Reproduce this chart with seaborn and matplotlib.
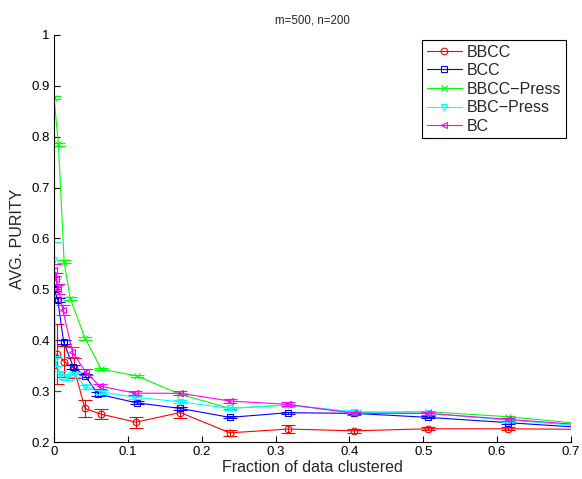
import pandas as pd
import seaborn as sns
import matplotlib.pyplot as plt

# values
methods = ["BBCC", "BCC", "BBCC\u2212Press", "BBC\u2212Press", "BC"]
colors = ["#ff0000", "#0000ff", "#00ff00", "#00ffff", "#ff00ff"]
markers = ["o", "s", "x", "v", "<"]

bbcc_x = [0.0, 0.004, 0.014, 0.027, 0.042, 0.063, 0.111, 0.171, 0.238, 0.317, 0.4065, 0.506, 0.615, 0.75]
bbcc_y = [0.351, 0.373, 0.358, 0.345, 0.266, 0.255, 0.239, 0.258, 0.218, 0.2255, 0.222, 0.226, 0.226, 0.2245]
bbcc_e = [0.05, 0.058, 0.03, 0.02, 0.016, 0.01, 0.011, 0.01, 0.006, 0.007, 0.004, 0.003, 0.003, 0.003]

bcc_x = [0.0, 0.005, 0.013, 0.026, 0.042, 0.06, 0.112, 0.171, 0.238, 0.317, 0.4065, 0.506, 0.615, 0.75]
bcc_y = [0.500, 0.480, 0.397, 0.348, 0.330, 0.294, 0.277, 0.266, 0.2485, 0.2576, 0.2563, 0.2485, 0.238, 0.2253]
bcc_e = [0.004, 0.004, 0.004, 0.004, 0.003, 0.004, 0.003, 0.003, 0.002, 0.002, 0.002, 0.002, 0.002, 0.002]

press_x = [0.0, 0.006, 0.0137, 0.022, 0.042, 0.064, 0.112, 0.171, 0.238, 0.317, 0.4065, 0.506, 0.615, 0.75]
press_y = [0.877, 0.785, 0.554, 0.482, 0.404, 0.343, 0.330, 0.2937, 0.2662, 0.2727, 0.2583, 0.2596, 0.2497, 0.2311]
press_e = [0.003, 0.003, 0.003, 0.003, 0.003, 0.002, 0.002, 0.002, 0.002, 0.002, 0.002, 0.002, 0.002, 0.002]

bbcp_x = [0.0, 0.002, 0.008, 0.018, 0.028, 0.042, 0.063, 0.11, 0.171, 0.238, 0.317, 0.4065, 0.506, 0.615, 0.75]
bbcp_y = [0.557, 0.36, 0.332, 0.328, 0.332, 0.309, 0.299, 0.288, 0.279, 0.2662, 0.2727, 0.2596, 0.2563, 0.2432, 0.2276]
bbcp_e = [0.037, 0.01, 0.008, 0.006, 0.005, 0.004, 0.004, 0.003, 0.003, 0.003, 0.003, 0.003, 0.003, 0.003, 0.003]

bc_x = [0.0, 0.003, 0.006, 0.012, 0.025, 0.043, 0.062, 0.11, 0.171, 0.238, 0.317, 0.4065, 0.506, 0.615, 0.75]
bc_y = [0.538, 0.52, 0.50, 0.459, 0.377, 0.337, 0.31, 0.296, 0.2957, 0.2806, 0.274, 0.2563, 0.2563, 0.2446, 0.23]
bc_e = [0.012, 0.012, 0.01, 0.01, 0.01, 0.006, 0.005, 0.004, 0.004, 0.004, 0.004, 0.003, 0.003, 0.003, 0.003]

xticks = [0, 0.1, 0.2, 0.3, 0.4, 0.5, 0.6, 0.7]
xticklabels = ["0", "0.1", "0.2", "0.3", "0.4", "0.5", "0.6", "0.7"]
yticks = [0.2, 0.3, 0.4, 0.5, 0.6, 0.7, 0.8, 0.9, 1.0]
yticklabels = ["0.2", "0.3", "0.4", "0.5", "0.6", "0.7", "0.8", "0.9", "1"]

series = [
    (bbcc_x, bbcc_y, bbcc_e),
    (bcc_x, bcc_y, bcc_e),
    (press_x, press_y, press_e),
    (bbcp_x, bbcp_y, bbcp_e),
    (bc_x, bc_y, bc_e),
]

sns.set_style("white")
plt.rcParams["font.family"] = ["Liberation Sans", "DejaVu Sans"]

fig = plt.figure(figsize=(5.82, 4.79), dpi=100)
ax = fig.add_axes([0.0928, 0.0772, 0.981 - 0.0928, 0.927 - 0.0772])

for name, color, marker, (xs, ys, es) in zip(methods, colors, markers, series):
    df = pd.DataFrame({"x": xs, "y": ys})
    sns.lineplot(data=df, x="x", y="y", sort=False, estimator=None, color=color,
                 marker=marker, markersize=4 if marker == "x" else 4.8,
                 markerfacecolor="none", markeredgecolor=color, markeredgewidth=0.8,
                 linewidth=0.8, label=name, ax=ax)
    ax.errorbar(xs, ys, yerr=es, fmt="none", ecolor=color, elinewidth=0.8,
                capsize=5, capthick=0.8)

ax.set_xlim(0, 0.7)
ax.set_ylim(0.2, 1.0)
ax.set_xticks(xticks)
ax.set_xticklabels(xticklabels)
ax.set_yticks(yticks)
ax.set_yticklabels(yticklabels)
ax.tick_params(direction="in", length=4, width=0.8, labelsize=9.5, pad=3,
               bottom=True, left=True, colors="black")

for side in ["top", "right"]:
    ax.spines[side].set_visible(False)
for side in ["left", "bottom"]:
    ax.spines[side].set_color("black")
    ax.spines[side].set_linewidth(0.8)

ax.set_xlabel("Fraction of data clustered", fontsize=11.5, labelpad=1)
ax.set_ylabel("AVG. PURITY", fontsize=11.5, labelpad=5)
ax.set_title("m=500, n=200", fontsize=8.3, pad=8)

leg = ax.legend(loc="upper right", fontsize=11.5, frameon=True, fancybox=False,
                framealpha=1, edgecolor="black", borderaxespad=0.3,
                handlelength=2.2, handletextpad=0.3, labelspacing=0.22,
                borderpad=0.3)
leg.get_frame().set_linewidth(0.8)

fig.savefig("out.png", dpi=100)
